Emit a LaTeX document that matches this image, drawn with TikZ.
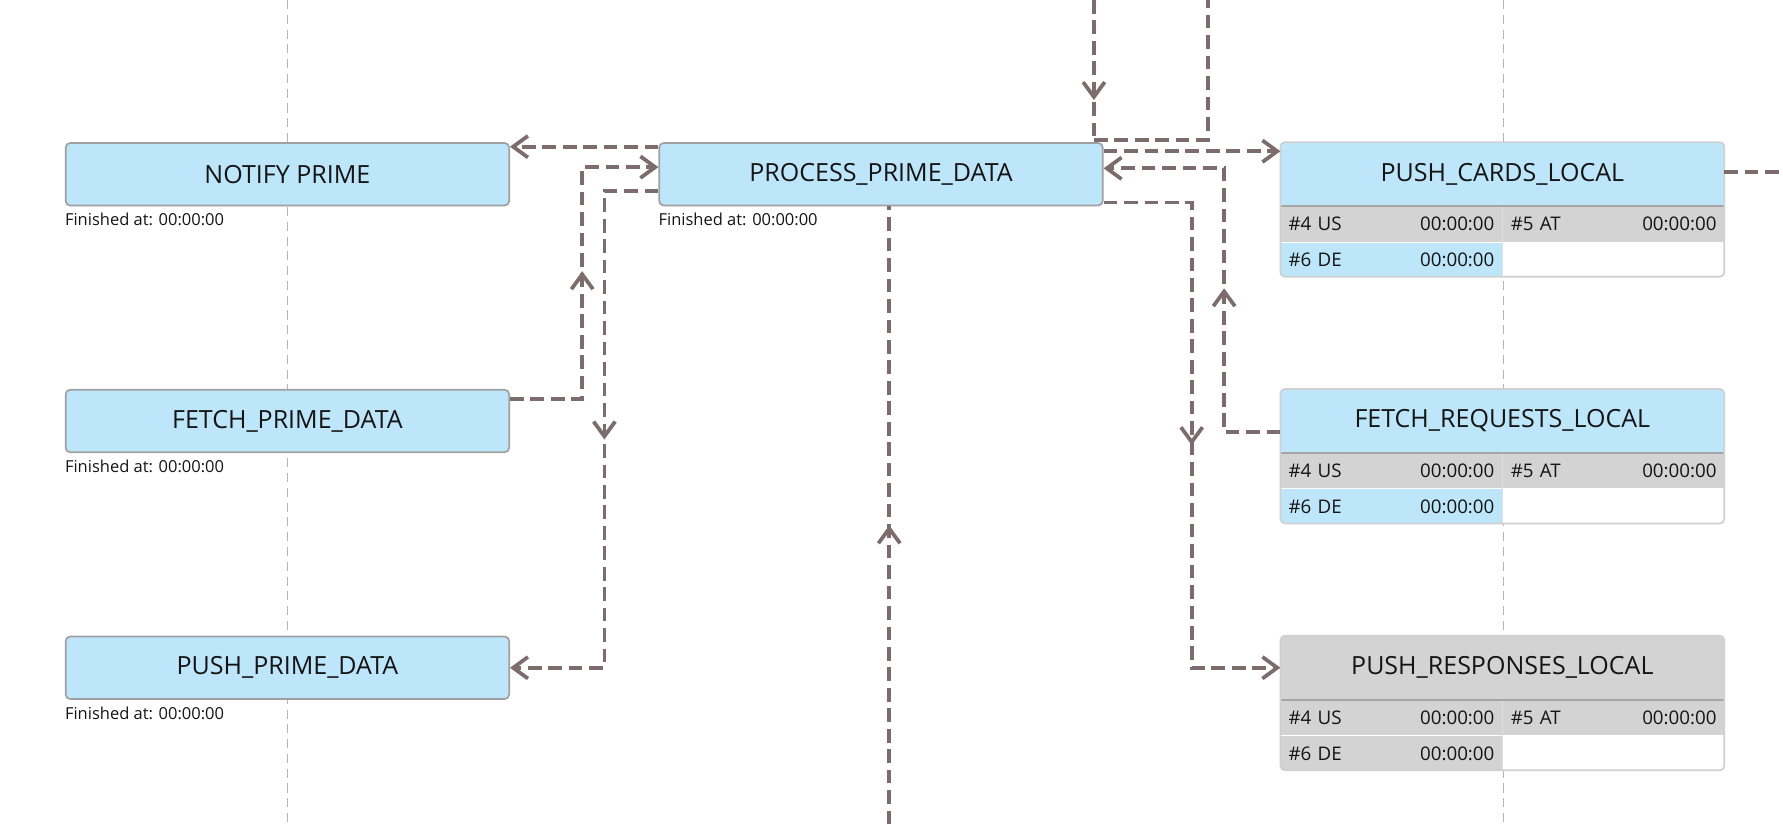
\documentclass[tikz,border=0pt]{standalone}
\usepackage{fontspec}
\setmainfont{Open Sans}
\usetikzlibrary{arrows.meta,positioning,calc,decorations.markings}
\definecolor{prime}{RGB}{190,230,250}
\definecolor{cellgrey}{RGB}{211,211,211}
\definecolor{boxline}{RGB}{160,160,160}
\definecolor{rightline}{RGB}{208,208,208}
\definecolor{headline}{RGB}{165,165,165}
\definecolor{cellline}{RGB}{225,225,225}
\definecolor{linkc}{RGB}{125,108,108}
\definecolor{lanec}{RGB}{185,180,180}
\definecolor{ink}{RGB}{20,20,20}
\begin{document}
\begin{tikzpicture}[x=1pt, y=-1pt, >={Straight Barb[length=13pt,width=19pt]},
  task/.style={draw=boxline, line width=1.5pt, fill=prime, rounded corners=4pt, minimum width=390pt, minimum height=55pt, inner sep=0pt, anchor=north west, text=ink, font=\fontsize{22}{26}\selectfont},
  finish/.style={inner sep=0pt, text=ink, font=\fontsize{14.5}{17}\selectfont},
  outer/.style={fill=white, minimum width=390pt, minimum height=118pt, inner sep=0pt, anchor=north west},
  head/.style={minimum width=390pt, minimum height=56pt, inner sep=0pt, anchor=north west, text=ink, font=\fontsize{22}{26}\selectfont},
  cell/.style={text width=181pt, inner xsep=7pt, inner ysep=0pt, minimum height=31pt, anchor=north west, text=ink, font=\fontsize{16.5}{19}\selectfont},
  lane/.style={draw=lanec, line width=1.3pt, dash pattern=on 8pt off 5pt},
  link/.style={color=linkc, draw, line width=3.3pt, dash pattern=on 12pt off 6pt},
  midarrow/.style={postaction={decorate}, decoration={markings, mark=at position #1pt with {\arrow{>}}}}]
\useasboundingbox (0,0) rectangle (1568,725);
\draw[lane] (253,0) -- (253,725);
\draw[lane] (1322,0) -- (1322,725);

\node[task] (notify) at (57,125) {NOTIFY PRIME};
\node[task] (fetchp) at (57,342) {FETCH\_PRIME\_DATA};
\node[task] (pushp) at (57,559) {PUSH\_PRIME\_DATA};
\node[task] (process) at (579,125) {PROCESS\_PRIME\_DATA};
\node[finish, below right=6pt and 0pt of notify.south west] (notifyfin) {Finished at: 00:00:00};
\node[finish, below right=6pt and 0pt of fetchp.south west] (fetchpfin) {Finished at: 00:00:00};
\node[finish, below right=6pt and 0pt of pushp.south west] (pushpfin) {Finished at: 00:00:00};
\node[finish, below right=6pt and 0pt of process.south west] (processfin) {Finished at: 00:00:00};

\foreach \nm/\by/\ttl/\hc/\dc in {cards/125/PUSH\_CARDS\_LOCAL/prime/prime,
    reqs/342/FETCH\_REQUESTS\_LOCAL/prime/prime,
    resp/559/PUSH\_RESPONSES\_LOCAL/cellgrey/cellgrey}
{
  \node[outer] (\nm) at (1126,\by) {};
  \begin{scope}
    \clip[rounded corners=4pt] (\nm.north west) rectangle (\nm.south east);
    \node[head, fill=\hc] (\nm-head) at (\nm.north west) {\ttl};
    \node[cell, fill=cellgrey] (\nm-us) at (\nm-head.south west) {\#4 US\hfill 00:00:00};
    \node[cell, fill=cellgrey] (\nm-at) at (\nm-us.north east) {\#5 AT\hfill 00:00:00};
    \node[cell, fill=\dc] (\nm-de) at (\nm-us.south west) {\#6 DE\hfill 00:00:00};
  \end{scope}
  \draw[white, line width=.8pt] (\nm-us.south west) -- (\nm-at.south east);
  \draw[cellline, line width=1pt] (\nm-us.north east) -- (\nm-de.south east);
  \draw[headline, line width=1.5pt] (\nm-head.south west) -- (\nm-head.south east);
  \draw[rightline, line width=1.5pt, rounded corners=4pt] (\nm.north west) rectangle (\nm.south east);
}

\coordinate (topa) at (962,0);
\coordinate (topb) at (1062,0);
\coordinate (botc) at (782,725);
\coordinate (offright) at (1568,151);

\draw[link,->] ($(process.north west)+(0,4)$) -- ($(notify.north east)+(0,4)$);
\draw[link,->,midarrow=176] ($(fetchp.north east)+(0,9)$) -| ($(process.north west)+(-67,22)$) -- ($(process.north west)+(0,22)$);
\draw[link,->,midarrow=266] ($(process.north west)+(0,43)$) -| ($(pushp.east)+(83,0)$) -- (pushp.east);
\draw[link,midarrow=88] (topa) -- (topa |- process.north);
\draw[link] ($(topa |- process.north)+(0,-2)$) -| (topb);
\draw[link,->] ($(process.north east)+(0,8)$) -- ($(cards.north west)+(0,8)$);
\draw[link,->,midarrow=176] ($(reqs.north west)+(0,38)$) -| ($(process.north east)+(106,23)$) -- ($(process.north east)+(0,23)$);
\draw[link,->,midarrow=291] ($(process.north east)+(0,53)$) -| ($(resp-head.west)+(-78,0)$) -- (resp-head.west);
\draw[link,midarrow=263] (botc) -- (botc |- process.south);
\draw[link] (offright -| cards.east) -- (offright);

\end{tikzpicture}
\end{document}
